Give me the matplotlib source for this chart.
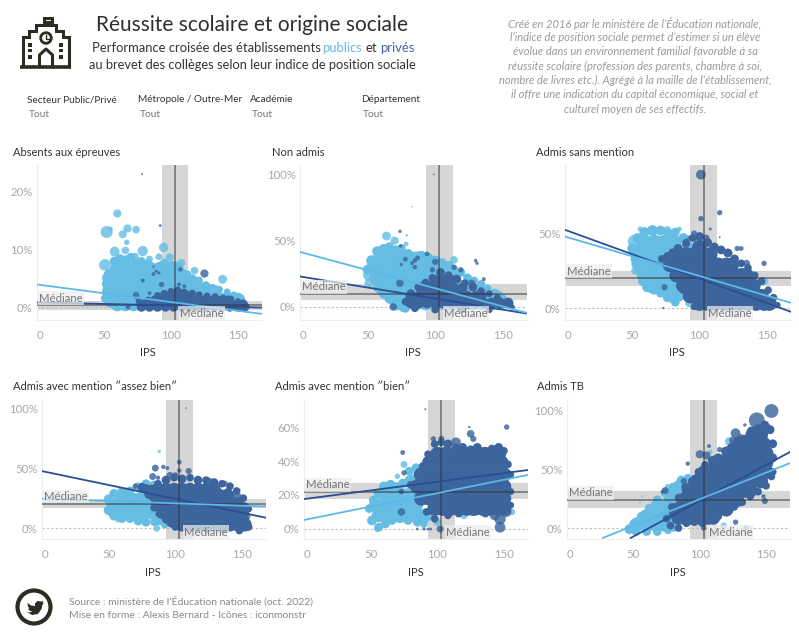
import numpy as np
import matplotlib
matplotlib.use("Agg")
import matplotlib.pyplot as plt
from matplotlib.patches import Circle, Polygon, Rectangle

plt.rcParams["font.family"] = ["Lato", "DejaVu Sans"]

CLAIR = "#65BDE3"
FONCE = "#3D659D"
TREND_CLAIR = "#5BB9E8"
TREND_FONCE = "#2B4E94"
ICONE = "#2C2C22"

# --- DONNEES ---
# amas : (valeur %, effectif, [ips...]) / bord et isoles : (ips, valeur %, effectif)
P1_PUB_AMAS = [
    (6.6, 110, [60, 66, 72, 78, 84, 92, 98, 104]),
    (5.4, 110, [55, 61, 67, 73, 79, 85, 91, 97, 103, 108]),
    (4.0, 110, [54, 60, 66, 72, 78, 84, 90, 96, 102, 108, 114, 118]),
    (2.6, 110, [54, 60, 66, 72, 78, 84, 90, 96, 102, 108, 114, 120, 126, 132]),
    (1.2, 110, [55, 61, 67, 73, 79, 85, 91, 97, 103, 109, 115, 121, 127, 132, 138, 144, 150]),
    (0.4, 90, [60, 66, 72, 78, 84, 90]),
]
P1_PUB_BORD = [(53, 3, 60), (51, 1.5, 40), (55, 0.6, 40), (58, 7.9, 50), (62, 8.4, 40), (66, 8.0, 60), (70, 8.6, 40),
               (74, 7.6, 50), (78, 7.9, 40), (83, 7.4, 50), (88, 6.6, 60), (95, 7.6, 40), (101, 7.2, 40), (106, 6.2, 50),
               (112, 5.6, 40), (116, 4.9, 40), (121, 4.6, 30), (126, 3.7, 40), (131, 3.4, 25), (136, 3, 30),
               (142, 2.6, 25), (147, 2.1, 25), (152, 1.3, 20)]
P1_PUB_ISOLES = [(60, 16.2, 35), (52, 13, 75), (67.6, 13.6, 35), (64, 12.6, 33), (74, 13.4, 30), (67, 11.2, 15),
                 (55, 13.5, 10), (94.5, 10.3, 45), (99, 8.6, 35), (107.7, 7.6, 35), (117.6, 6.3, 30), (138.6, 4.8, 40),
                 (129, 3.5, 15), (79, 9.7, 55), (58, 9.6, 50), (66, 9.8, 30), (73, 8.7, 35), (84, 8.3, 25),
                 (91, 8.7, 25), (50.7, 7.3, 70), (52, 5, 50), (70, 0, 15), (112, 4.8, 20), (122, 3.6, 20)]
P1_PRIV_AMAS = [
    (1.9, 45, [99, 104, 109, 113]),
    (1.2, 45, [88, 93, 98, 103, 108, 113, 118, 123, 128, 133, 138, 143]),
    (0.5, 45, [80, 85, 90, 95, 100, 105, 110, 115, 120, 125, 130, 135, 140, 145, 150, 154]),
    (0.0, 45, [78, 84, 90, 96, 102, 108, 114, 120, 126, 132, 138, 144, 150, 155]),
]
P1_PRIV_BORD = [(76, 1, 20), (83, 1.2, 25), (90, 2, 25), (95, 2.3, 30), (100, 2.7, 25), (105, 2.9, 30), (110, 2.6, 25),
                (116, 2.4, 25), (121, 2.1, 25), (127, 1.9, 25), (133, 1.8, 25), (139, 1.6, 20), (145, 1.4, 20),
                (150, 1.0, 20), (155, 0.5, 15), (157, 0.1, 12)]
P1_PRIV_ISOLES = [(125, 5.8, 35), (107, 6.5, 10), (74, 2, 25), (79, 4.6, 8), (87, 5.7, 8), (89, 6.2, 5),
                  (91, 5.9, 5), (93, 3.9, 15), (106, 3.9, 8), (110, 3.6, 8), (84, 2.4, 8), (92, 14.1, 4),
                  (78.5, 23, 2), (87, 7, 3), (68, 0, 12)]

P2_PUB_AMAS = [
    (36, 130, [60, 67, 74, 81, 88]),
    (30, 130, [55, 62, 69, 76, 83, 90, 97, 104]),
    (22, 130, [57, 64, 71, 78, 85, 92, 99, 106, 113]),
    (15, 130, [61, 68, 75, 82, 89, 96, 103, 110, 117, 124]),
    (8, 130, [68, 75, 82, 89, 96, 103, 110, 117, 124, 131, 138]),
    (3, 110, [72, 79, 86, 93, 100, 107, 114, 121, 128, 135, 142, 148]),
]
P2_PUB_BORD = [(50, 28, 50), (53, 35, 60), (57, 42, 50), (62, 43, 70), (66, 45, 50), (71, 42, 70), (75, 44, 40),
               (80, 40, 50), (85, 38, 50), (90, 39, 40), (95, 37, 50), (100, 35, 50), (105, 33, 50), (110, 31, 50),
               (114, 28, 40), (119, 26, 40), (124, 22, 40), (129, 20, 30), (134, 17, 40), (139, 14, 30), (144, 11, 30),
               (150, 7, 30), (154, 2, 20), (58, 15, 60), (62, 10, 50), (66, 6, 40), (71, 1, 40), (78, -1, 40)]
P2_PUB_ISOLES = [(64, 53.5, 40), (70, 50, 35), (78.5, 47.5, 12), (79, 54, 3), (83, 75.5, 1.5), (51, 24, 70),
                 (51, 18, 40), (114, 35.5, 30), (147, 10, 25), (76, -1, 30)]
P2_PRIV_AMAS = [
    (20, 60, [100, 106, 112]),
    (14, 60, [90, 96, 102, 108, 114, 120]),
    (8, 60, [82, 88, 94, 100, 106, 112, 118, 124, 130, 134]),
    (3, 60, [82, 88, 94, 100, 106, 112, 118, 124, 130, 136, 142, 148, 154]),
]
P2_PRIV_BORD = [(78, 4, 30), (82, 10, 40), (88, 15, 40), (93, 18, 40), (98, 22, 30), (104, 26, 40), (110, 24, 30),
                (116, 21, 40), (122, 18, 30), (128, 15, 40), (134, 12, 30), (140, 10, 25), (146, 7, 25), (152, 4, 20),
                (157, 0, 15), (85, -1, 30), (100, -2, 30), (120, -2, 30), (140, -2, 25)]
P2_PRIV_ISOLES = [(74, 57, 6), (74.5, 46, 6), (78, 36, 12), (75, 32, 5), (94, 40, 12), (87, 37, 12), (85, 35, 10),
                  (83, 33, 8), (85, 30, 10), (100, 34, 20), (98, 28, 15), (114, 30, 15), (119, 28, 15), (130, 35, 6),
                  (131, 33, 6), (136, 21, 8), (69, 0, 30), (99, 100, 1.5), (74, 18, 30), (127, 18, 25)]

P3_PUB_AMAS = [
    (44, 120, [60, 67, 74, 81]),
    (38, 120, [53, 60, 67, 74, 81, 88]),
    (30, 120, [55, 62, 69, 76, 83]),
    (22, 120, [59, 66, 73, 80, 87]),
    (15, 120, [65, 72, 79, 86]),
    (9, 90, [78, 85]),
]
P3_PUB_BORD = [(50, 40, 50), (54, 47, 50), (59, 51, 50), (65, 52, 60), (71, 52, 50), (77, 50, 40), (82, 51, 40),
               (88, 47, 50), (92, 42, 40), (52, 33, 40), (55, 26, 50), (58, 18, 50), (61, 14, 50), (66, 12, 40),
               (71, 10, 40), (76, 7, 40), (82, 4, 40)]
P3_PUB_ISOLES = [(51.6, 44.7, 90), (56, 53, 15), (76, 52, 40), (85, 53, 12), (147.6, 18, 40), (52, 25, 30),
                 (92, 3, 25), (79, 6, 30)]
P3_PRIV_AMAS = [
    (41, 110, [100]),
    (36, 110, [84, 90, 96, 102, 108]),
    (29, 110, [78, 84, 90, 96, 102, 108, 114, 120, 124]),
    (22, 110, [83, 89, 95, 101, 107, 113, 119, 125, 131, 135]),
    (15, 110, [88, 94, 100, 106, 112, 118, 124, 130, 136, 140]),
    (8, 110, [93, 99, 105, 111, 117, 123, 129, 135, 141, 146]),
    (3, 110, [100, 106, 112, 118, 124, 130, 136, 142, 148, 152]),
]
P3_PRIV_BORD = [(72, 33, 30), (76, 35, 30), (80, 37, 40), (84, 40, 40), (90, 44, 30), (95, 47, 30), (100, 48, 40),
                (106, 44, 40), (111, 41, 40), (116, 39, 40), (121, 37, 40), (126, 33, 40), (131, 30, 30), (136, 27, 30),
                (141, 22, 30), (146, 18, 30), (151, 12, 30), (155, 7, 30), (158, 2, 20), (85, 21, 30), (88, 12, 30),
                (92, 7, 25), (96, 1, 25)]
P3_PRIV_ISOLES = [(101, 89.5, 50), (115, 64, 15), (101, 60, 15), (108, 53, 5), (115, 47.5, 2), (148, 30, 15),
                  (135, 30, 25), (122, 37, 25), (96, 50, 20), (93, 47, 15), (90, 43, 30), (105, 47, 25),
                  (128, 40, 15), (131, 40, 12), (136, 27, 10), (74, 14, 20), (73, 0, 3), (85, 16, 8)]

P4_PUB_AMAS = [
    (28, 100, [78]),
    (24, 110, [60, 67, 74, 81]),
    (19, 110, [54, 61, 68, 75, 82]),
    (13, 110, [55, 62, 69, 76, 83]),
    (8, 90, [88, 94, 112, 118]),
]
P4_PUB_BORD = [(50, 24, 50), (54, 29, 40), (60, 30, 50), (66, 31, 40), (72, 34, 50), (78, 37, 40), (84, 36, 40),
               (50, 15, 50), (54, 10, 40), (60, 8, 40), (66, 8, 40), (72, 6, 40), (78, 5, 40), (84, 5, 30), (92, 3, 30)]
P4_PUB_ISOLES = [(88, 64, 5), (86, 0, 25), (53, 28.7, 25), (57, 7, 15), (62, 30, 25), (70, 10, 20), (110, 2, 20)]
P4_PRIV_AMAS = [
    (32, 100, [87, 93, 99, 105, 111, 117, 123, 129]),
    (27, 100, [85, 91, 97, 103, 109, 115, 121, 127, 133, 139]),
    (20, 100, [87, 93, 99, 105, 111, 117, 123, 129, 135, 141, 146]),
    (13, 100, [91, 97, 103, 109, 115, 121, 127, 133, 139, 145, 150]),
    (6, 100, [98, 104, 110, 116, 122, 128, 134, 140, 146, 150]),
    (3, 100, [105, 111, 117, 123, 129, 135, 141, 147, 152]),
]
P4_PRIV_BORD = [(75, 34, 40), (78, 33, 40), (80, 28, 40), (82, 33, 30), (87, 37, 30), (93, 40, 40), (99, 42, 30),
                (105, 41, 40), (111, 42, 30), (117, 40, 40), (123, 40, 30), (129, 38, 40), (135, 37, 30), (141, 35, 30),
                (146, 31, 30), (151, 25, 30), (155, 16, 25), (84, 17, 30), (88, 12, 30), (93, 7, 30), (100, 1, 30),
                (112, 0, 30), (124, -1, 30), (136, -1, 30), (148, -2, 30), (155, 1, 30)]
P4_PRIV_ISOLES = [(85, 50, 25), (91, 51, 10), (94, 50, 8), (83, 43, 25), (87, 42, 10), (96, 44, 25), (100, 44, 20),
                  (103, 55, 12), (103, 48, 10), (110, 47.5, 20), (70, 35, 15), (146, 27, 40), (108, 100, 1.5),
                  (125, 39, 30), (137, 37, 20), (153, 10, 40), (152, 18, 40), (140, 32, 20)]

P5_PUB_AMAS = [
    (28, 90, [80, 85]),
    (20, 100, [61, 67, 73, 79]),
    (14, 100, [54, 60, 66, 72, 78, 84]),
    (8, 100, [56, 62, 68, 74, 80, 86, 91]),
]
P5_PUB_BORD = [(49, 12, 40), (52, 17, 40), (56, 21, 50), (60, 25, 50), (65, 26, 50), (70, 25, 40), (74, 27, 40),
               (79, 34, 40), (84, 36, 40), (89, 33, 40), (51, 5, 50), (56, 1, 40), (61, 3, 40), (66, 5, 40), (72, 6, 40),
               (78, 5, 40), (85, 4, 40), (90, 3, 30)]
P5_PUB_ISOLES = [(75, 38, 25), (70, 31, 15), (86, 35, 8), (55, 0, 20), (65, 26, 40), (100, 4, 30), (120, 8, 30),
                 (156, 10, 20)]
P5_PRIV_AMAS = [
    (44, 110, [100, 106, 112, 118, 124, 130, 136, 142, 146]),
    (39, 110, [94, 100, 106, 112, 118, 124, 130, 136, 142, 148]),
    (32, 110, [88, 94, 100, 106, 112, 118, 124, 130, 136, 142, 148, 150]),
    (25, 110, [85, 91, 97, 103, 109, 115, 121, 127, 133, 139, 145, 150]),
    (18, 110, [88, 94, 100, 106, 112, 118, 124, 130, 136, 142, 148, 150]),
    (12, 110, [98, 104, 110, 116, 122, 128, 134, 140, 146, 150]),
]
P5_PRIV_BORD = [(80, 26, 30), (85, 32, 30), (89, 37, 30), (93, 44, 30), (98, 50, 30), (103, 51, 30), (108, 50, 40),
                (114, 48, 30), (119, 48, 40), (125, 47, 30), (130, 48, 40), (135, 46, 30), (141, 47, 40), (146, 48, 40),
                (150, 46, 30), (153, 38, 30), (155, 32, 25), (155, 22, 25), (155, 14, 25), (92, 10, 30), (98, 6, 30),
                (108, 8, 30), (116, 9, 30), (126, 10, 30), (136, 9, 30), (146, 11, 30)]
P5_PRIV_ISOLES = [(152, 60, 15), (124, 60, 3), (125, 56, 30), (127, 53, 20), (114, 51, 50), (91, 70.5, 2), (74, 45, 12),
                  (147, 1, 60), (102, 0, 25), (147, 6, 70), (143, 8, 50), (152, 10, 50), (85, 0, 4), (90, 0, 5),
                  (93, 0, 4), (95, 0, 4), (73, 22, 15), (75, 33, 15), (73, 10, 30), (103, 53, 20), (97, 53, 15)]

P6_PUB_AMAS = [
    (35, 110, [85, 92]),
    (27, 110, [78, 85, 92]),
    (18, 110, [68, 75, 82]),
    (10, 110, [60, 67, 74]),
    (3, 110, [53, 60, 67, 74, 80]),
]
P6_PUB_BORD = [(47, -1, 50), (50, 3, 40), (56, 10, 40), (62, 17, 40), (68, 24, 40), (74, 30, 40), (80, 35, 40),
               (86, 41, 40), (91, 43, 30), (52, -3, 40), (60, -3, 40), (68, -3, 40), (76, -2, 30)]
P6_PUB_ISOLES = [(122, 74, 35), (108, 65, 10), (150, 85, 40), (135, 0, 15), (118, 2, 20), (55, 22, 2), (76, 35, 20),
                 (57, 27, 2)]
P6_PRIV_AMAS = [
    (80, 110, [140, 146]),
    (72, 110, [130, 136, 142, 148]),
    (64, 110, [122, 128, 134, 140, 146, 150]),
    (56, 110, [112, 118, 124, 130, 136, 142, 148, 150]),
    (48, 110, [104, 110, 116, 122, 128, 134, 140, 146, 150]),
    (40, 110, [98, 104, 110, 116, 122, 128, 134, 140, 146]),
    (32, 110, [92, 98, 104, 110, 116, 122, 128, 134, 138]),
    (24, 110, [88, 94, 100, 106, 112, 118, 124, 128]),
    (16, 110, [84, 90, 96, 102, 108, 114, 120]),
    (9, 110, [84, 88, 94, 100, 106, 110]),
]
P6_PRIV_BORD = [(84, 26, 30), (89, 35, 30), (94, 40, 30), (99, 48, 30), (104, 54, 30), (109, 58, 30), (114, 60, 40),
                (119, 66, 30), (124, 69, 40), (129, 72, 40), (134, 76, 40), (139, 83, 40), (144, 85, 40), (149, 88, 40),
                (153, 84, 40), (155, 72, 40), (155, 60, 40), (155, 48, 30), (78, 2, 30), (84, 0, 30), (90, 4, 30),
                (96, 5, 30), (102, 4, 30), (108, 7, 30), (114, 10, 30), (120, 14, 30), (126, 18, 30), (132, 22, 30),
                (138, 27, 30), (144, 31, 30), (150, 36, 30), (154, 44, 30), (75, 8, 30), (80, 12, 40), (79, 18, 30)]
P6_PRIV_ISOLES = [(154, 100, 100), (143, 92, 130), (134, 88, 6), (150, 85, 60), (145, 80, 70), (127, 81, 50),
                  (125, 75, 30), (131, 77, 30), (122, 62, 50), (100, 63, 35), (105, 62, 35), (115, 67, 15),
                  (107, 70, 8), (91, 55, 10), (74, 32, 25), (72, 31, 8), (148, 27, 10), (149, 23, 20),
                  (127, 5, 15), (88, 40, 20), (83, 0, 8), (103, 0, 15)]

# droites de tendance : ips de depart/arrivee et valeurs
P1_TEND_PUB, P1_TEND_PRIV = ([0, 168], [3.9, -1.2]), ([0, 168], [0.8, -0.1])
P2_TEND_PUB, P2_TEND_PRIV = ([0, 168], [41.5, -4.5]), ([0, 168], [23, -5])
P3_TEND_PUB, P3_TEND_PRIV = ([0, 168], [48, 3.5]), ([0, 168], [52.5, -2.5])
P4_TEND_PUB, P4_TEND_PRIV = ([0, 168], [24.6, 18]), ([0, 168], [47.5, 8.7])
P5_TEND_PUB, P5_TEND_PRIV = ([0, 168], [5.3, 31.8]), ([0, 168], [17.6, 34.7])
P6_TEND_PUB, P6_TEND_PRIV = ([27, 168], [-8.5, 55.5]), ([48, 168], [-8.5, 65])

IPS_MEDIANE = 103
IPS_BANDE = (93, 113)
MEDIANES = [0.3, 10, 20, 20.5, 22, 24]
BANDES = [(-0.6, 1.1), (5, 17), (14.5, 25), (17, 24), (17.6, 27), (17, 32)]
TITRES = ["Absents aux épreuves", "Non admis", "Admis sans mention",
          "Admis avec mention \u2033assez bien\u2033", "Admis avec mention \u2033bien\u2033", "Admis TB"]
YTICKS = [[0, 10, 20], [0, 50, 100], [0, 50], [0, 50, 100], [0, 20, 40, 60], [0, 50, 100]]
XTICKS = [0, 50, 100, 150]

PUB = [(P1_PUB_AMAS, P1_PUB_BORD, P1_PUB_ISOLES, P1_TEND_PUB), (P2_PUB_AMAS, P2_PUB_BORD, P2_PUB_ISOLES, P2_TEND_PUB),
       (P3_PUB_AMAS, P3_PUB_BORD, P3_PUB_ISOLES, P3_TEND_PUB), (P4_PUB_AMAS, P4_PUB_BORD, P4_PUB_ISOLES, P4_TEND_PUB),
       (P5_PUB_AMAS, P5_PUB_BORD, P5_PUB_ISOLES, P5_TEND_PUB), (P6_PUB_AMAS, P6_PUB_BORD, P6_PUB_ISOLES, P6_TEND_PUB)]
PRIV = [(P1_PRIV_AMAS, P1_PRIV_BORD, P1_PRIV_ISOLES, P1_TEND_PRIV), (P2_PRIV_AMAS, P2_PRIV_BORD, P2_PRIV_ISOLES, P2_TEND_PRIV),
        (P3_PRIV_AMAS, P3_PRIV_BORD, P3_PRIV_ISOLES, P3_TEND_PRIV), (P4_PRIV_AMAS, P4_PRIV_BORD, P4_PRIV_ISOLES, P4_TEND_PRIV),
        (P5_PRIV_AMAS, P5_PRIV_BORD, P5_PRIV_ISOLES, P5_TEND_PRIV), (P6_PRIV_AMAS, P6_PRIV_BORD, P6_PRIV_ISOLES, P6_TEND_PRIV)]

# --- MISE EN PAGE (pixels) ---
W, H = 799, 639
# gauche, droite, haut, bas, ymin, ymax, x du titre, x de "IPS", y titre, y IPS
CADRES = [
    (37, 262, 165, 320, -2.25, 24.6, 13, 148, 152, 353),
    (300, 527, 165, 320, -9.8, 107, 272, 413, 152, 353),
    (565, 791, 165, 320, -8, 96, 536, 677, 152, 353),
    (42, 266, 400, 539, -9, 106.7, 13, 153, 386, 573),
    (304, 528, 400, 539, -5.9, 75.9, 275, 416, 386, 573),
    (567, 790, 400, 539, -9.4, 109.4, 537, 678, 386, 573),
]

fig = plt.figure(figsize=(W / 100, H / 100), dpi=100, facecolor="white")


def tracer_series(ax, amas, bord, isoles, couleur):
    xs, ys, ss = [], [], []
    for val, eff, ips in amas:
        for x in ips:
            xs.append(x)
            ys.append(val)
            ss.append(eff)
    for x, val, eff in bord:
        xs.append(x)
        ys.append(val)
        ss.append(eff)
    ax.scatter(xs, ys, s=ss, color=couleur, linewidths=0, zorder=3)
    iso = np.array(isoles)
    ax.scatter(iso[:, 0], iso[:, 1], s=iso[:, 2], color=couleur, alpha=0.82, linewidths=0, zorder=3)


for i, cadre in enumerate(CADRES):
    g, d, h, b, ymin, ymax, xt, xi, yt, yi = cadre
    ax = fig.add_axes([g / W, 1 - b / H, (d - g) / W, (b - h) / H])
    ax.set_xlim(0, 168)
    ax.set_ylim(ymin, ymax)

    ax.axvspan(*IPS_BANDE, color="#D6D6D6", lw=0, zorder=1)
    ax.axhspan(*BANDES[i], color="#D6D6D6", lw=0, zorder=1)
    ax.axhline(0, color="#BDBDBD", lw=0.8, ls=(0, (2, 2)), zorder=2)

    tracer_series(ax, PUB[i][0], PUB[i][1], PUB[i][2], CLAIR)
    tracer_series(ax, PRIV[i][0], PRIV[i][1], PRIV[i][2], FONCE)

    ax.axvline(IPS_MEDIANE, color="#333333", alpha=0.6, lw=1.2, zorder=5)
    ax.axhline(MEDIANES[i], color="#333333", alpha=0.6, lw=1.2, zorder=5)
    ax.plot(*PRIV[i][3], color=TREND_FONCE, lw=1.3, zorder=6)
    ax.plot(*PUB[i][3], color=TREND_CLAIR, lw=1.3, zorder=6)

    ax.annotate("Médiane", xy=(0, MEDIANES[i]), xytext=(1.5, 5), textcoords="offset points", fontsize=8.2,
                color="#777777", va="center", ha="left", zorder=7,
                bbox=dict(boxstyle="square,pad=0.12", fc="#EDEDED", ec="none", alpha=0.72))
    ax.annotate("Médiane", xy=(104, 0), xycoords=("data", "axes fraction"), xytext=(2.5, 5), textcoords="offset points",
                fontsize=8.2, color="#777777", va="center", ha="left", zorder=7,
                bbox=dict(boxstyle="square,pad=0.12", fc="#EDEDED", ec="none", alpha=0.72))

    ax.set_xticks(XTICKS)
    ax.set_yticks(YTICKS[i])
    ax.set_yticklabels([f"{v}%" for v in YTICKS[i]])
    ax.tick_params(length=0, labelsize=8.2, labelcolor="#A8A8A8")
    ax.tick_params(axis="x", pad=7)
    ax.tick_params(axis="y", pad=3)
    ax.get_xticklabels()[0].set_ha("left")
    for sp in ["top", "right"]:
        ax.spines[sp].set_visible(False)
    for sp in ["left", "bottom"]:
        ax.spines[sp].set_color("#EEEEEE")
        ax.spines[sp].set_linewidth(0.8)

# couche texte + icones en pixels
fond = fig.add_axes([0, 0, 1, 1], facecolor="none", zorder=10)
fond.set_xlim(0, W)
fond.set_ylim(H, 0)
fond.axis("off")

for i, cadre in enumerate(CADRES):
    xt, xi, yt, yi = cadre[6:]
    fond.text(xt, yt, TITRES[i], fontsize=8, color="#333333", va="center", ha="left")
    fond.text(xi, yi, "IPS", fontsize=8, color="#333333", va="center", ha="center")

fond.text(252, 25, "Réussite scolaire et origine sociale", fontsize=15, color="#2E2E2E", va="center", ha="center")
fond.text(92, 47.5, "Performance croisée des établissements", fontsize=9.4, color="#333333", va="center")
fond.text(322.5, 47.5, "publics", fontsize=9.4, color="#6CB8E0", va="center")
fond.text(365, 47.5, "et", fontsize=9.4, color="#333333", va="center")
fond.text(380, 47.5, "privés", fontsize=9.4, color="#3F66A6", va="center")
fond.text(252.5, 65, "au brevet des collèges selon leur indice de position sociale", fontsize=9.3,
          color="#333333", va="center", ha="center")

FILTRES = [("Secteur Public/Privé", 27), ("Métropole / Outre-Mer", 138), ("Académie", 250), ("Département", 361)]
for label, x in FILTRES:
    fond.text(x, 100, label, fontsize=7.2, color="#333333", va="center")
    fond.text(x + 2, 114.5, "Tout", fontsize=7.4, color="#777777", va="center")

INTRO = ["Créé en 2016 par le ministère de l\u2019Éducation nationale,",
         "l\u2019indice de position sociale permet d\u2019estimer si un élève",
         "évolue dans un environnement familial favorable à sa",
         "réussite scolaire (profession des parents, chambre à soi,",
         "nombre de livres etc.). Agrégé à la maille de l\u2019établissement,",
         "il offre une indication du capital économique, social et",
         "culturel moyen de ses effectifs."]
for k, ligne in enumerate(INTRO):
    fond.text(635, 23 + k * 14.4, ligne, fontsize=8, style="italic", color="#9A9A9A", va="center", ha="center")

fond.text(69, 601, "Source : ministère de l\u2019Éducation nationale (oct. 2022)", fontsize=7.5, color="#8A8A8A", va="center")
fond.text(69, 616, "Mise en forme : Alexis Bernard - Icônes : iconmonstr", fontsize=7.5, color="#8A8A8A", va="center")

# icone college
fond.plot([20, 71], [66.5, 66.5], color=ICONE, lw=2.6, solid_capstyle="butt")
fond.plot([23, 23, 29, 29, 36, 36, 44, 44, 52, 52, 46, 46, 56, 56, 63, 63, 69, 69],
          [66, 37, 37, 31, 31, 25, 25, 18, 18, 22, 22, 25, 25, 31, 31, 37, 37, 66],
          color=ICONE, lw=2.2, solid_joinstyle="miter")
fond.add_patch(Circle((46, 38), 5.3, fc="white", ec=ICONE, lw=2))
fond.plot([46, 46, 49], [35, 38.5, 38.5], color=ICONE, lw=1)
fond.plot([39.5, 39.5, 46, 52.5, 52.5], [66, 55, 49, 55, 66], color=ICONE, lw=2.2)
for wx in (30, 61):
    for wy in (45, 50.5, 57):
        fond.add_patch(Rectangle((wx - 2, wy - 1.7), 4, 3.4, fc=ICONE, ec="none"))

# icone twitter
fond.add_patch(Circle((34, 607), 16.5, fc="white", ec=ICONE, lw=3))
OISEAU = [(27, 612), (30, 612.5), (32, 611.5), (28.5, 610), (29, 607.5), (28, 607), (27.5, 603), (31, 605.5), (35, 606),
          (35, 603.5), (37.5, 601), (41, 601.5), (43.5, 601), (42.5, 603), (44, 603), (42.5, 604.5),
          (41.5, 609), (38, 614), (32, 615)]
fond.add_patch(Polygon(OISEAU, closed=True, fc=ICONE, ec="none"))

fig.savefig("out.png", dpi=100)
